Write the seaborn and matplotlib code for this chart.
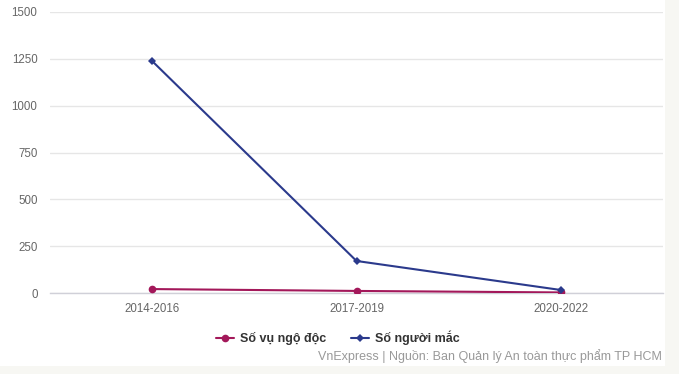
import matplotlib
matplotlib.use("Agg")
import matplotlib.pyplot as plt
import seaborn as sns
import pandas as pd
from matplotlib.patches import Rectangle
from matplotlib.lines import Line2D

categories = ["2014-2016", "2017-2019", "2020-2022"]
so_vu = [21, 11, 3]
so_nguoi = [1238, 171, 16]
series_names = ["Số vụ ngộ độc", "Số người mắc"]
y_ticks = [0, 250, 500, 750, 1000, 1250, 1500]
colors = ["#a3185a", "#2b3a8c"]

df = pd.DataFrame({
    "period": categories * 2,
    "value": so_vu + so_nguoi,
    "series": [series_names[0]] * 3 + [series_names[1]] * 3,
})
df["x"] = df["period"].map({c: i for i, c in enumerate(categories)})

sns.set_theme(style="white")
plt.rcParams["font.family"] = ["Liberation Sans", "DejaVu Sans"]

fig = plt.figure(figsize=(6.79, 3.74), dpi=100, facecolor="#f7f7f3")
fig.patches.append(Rectangle((0, 8 / 374), 665 / 679, 1 - 8 / 374, transform=fig.transFigure,
                             facecolor="white", edgecolor="none", zorder=-10))
ax = fig.add_axes([50 / 679, 1 - 293 / 374, 613 / 679, 281 / 374])
ax.set_facecolor("white")
ax.set_zorder(5)

sns.lineplot(data=df, x="x", y="value", hue="series", style="series",
             palette=dict(zip(series_names, colors)),
             markers={series_names[0]: "o", series_names[1]: "D"},
             dashes=False, linewidth=1.5, markersize=5.5, markeredgewidth=0,
             ax=ax, legend=False, zorder=3)
for line in ax.lines:
    if line.get_marker() == "D":
        line.set_markersize(4.5)

ax.set_xlim(-0.5, 2.5)
ax.set_ylim(0, 1500)
ax.set_yticks(y_ticks)
ax.set_xticks(range(len(categories)))
ax.set_xticklabels(categories)
ax.set_xlabel("")
ax.set_ylabel("")
ax.grid(axis="y", color="#e6e6e6", linewidth=1)
ax.grid(axis="x", visible=False)
for s in ["top", "right", "left"]:
    ax.spines[s].set_visible(False)
ax.spines["bottom"].set_color("#d0d0d8")
ax.spines["bottom"].set_linewidth(1)
ax.tick_params(axis="y", length=0, pad=9, labelsize=8.3, labelcolor="#666666")
ax.tick_params(axis="x", length=0, pad=7, labelsize=8.3, labelcolor="#666666")
ax.set_axisbelow(True)

handles = [Line2D([0], [0], color=colors[0], marker="o", markersize=5.5, linewidth=1.5, markeredgewidth=0),
           Line2D([0], [0], color=colors[1], marker="D", markersize=4.5, linewidth=1.5, markeredgewidth=0)]
fig.legend(handles, series_names, loc="center", bbox_to_anchor=(338 / 679, 1 - 338 / 374),
           ncol=2, frameon=False, handlelength=1.4, handletextpad=0.5, columnspacing=2.0,
           prop={"size": 9, "weight": "bold"}, labelcolor="#333333")

fig.text(662 / 679, 1 - 356 / 374, "VnExpress | Nguồn: Ban Quản lý An toàn thực phẩm TP HCM",
         ha="right", va="center", fontsize=9, color="#999999")

fig.savefig("out.png", dpi=100, facecolor=fig.get_facecolor())
